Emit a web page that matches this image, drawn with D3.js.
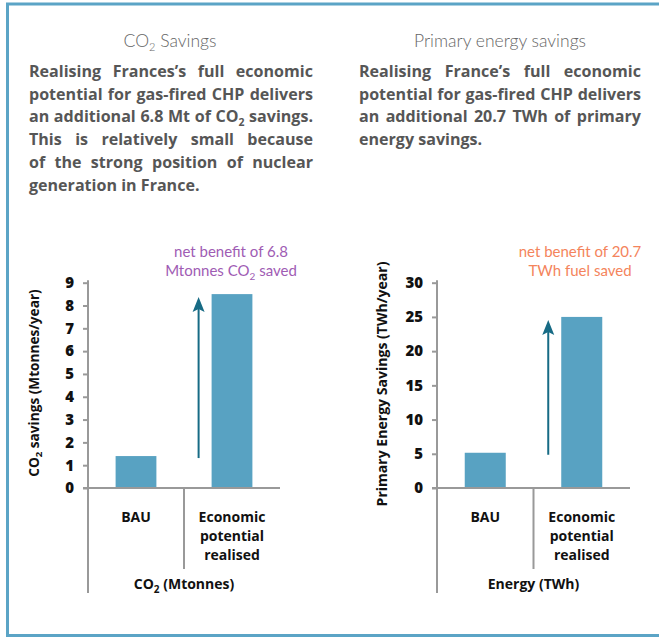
<!DOCTYPE html>
<html>
<head>
<meta charset="utf-8">
<script src="https://cdn.jsdelivr.net/npm/d3@7"></script>
<style>
  html, body { margin: 0; padding: 0; background: #fff; }
  svg { display: block; }
</style>
</head>
<body>
<svg id="chart" width="659" height="637"></svg>
<script>
// ---------------- data ----------------
const categories = ["BAU", "Economic potential realised"];
const categoryLines = [["BAU"], ["Economic", "potential", "realised"]];
const co2Values = [1.4, 8.5];
const energyValues = [5.15, 25];
const co2Ticks = [0, 1, 2, 3, 4, 5, 6, 7, 8, 9];
const energyTicks = [0, 5, 10, 15, 20, 25, 30];
const co2Heading = "CO₂ Savings";
const energyHeading = "Primary energy savings";
const co2Paragraph = [
  "Realising Frances’s full economic",
  "potential for gas-fired CHP delivers",
  "an additional 6.8 Mt of CO₂ savings.",
  "This is relatively small because",
  "of the strong position of nuclear",
  "generation in France."
];
const energyParagraph = [
  "Realising France’s full economic",
  "potential for gas-fired CHP delivers",
  "an additional 20.7 TWh of primary",
  "energy savings."
];
const co2Annotation = ["net benefit of 6.8", "Mtonnes CO₂ saved"];
const energyAnnotation = ["net benefit of 20.7", "TWh fuel saved"];
const co2YTitle = "CO₂ savings (Mtonnes/year)";
const energyYTitle = "Primary Energy Savings (TWh/year)";
const co2XTitle = "CO₂ (Mtonnes)";
const energyXTitle = "Energy (TWh)";

// ---------------- styles ----------------
const FONT = "Lato, 'Open Sans', sans-serif";
const BOLD = "'Open Sans', Lato, sans-serif";
const BORDER = "#5ba4c6";
const BAR = "#58a2c2";
const ARROW = "#176b85";
const AXIS = "#999999";

const svg = d3.select("#chart");

// frame
svg.append("path")
  .attr("d", "M659,4 H7.5 V635.5 H659")
  .attr("fill", "none").attr("stroke", BORDER).attr("stroke-width", 3);

// helper: text with subscript 2
function addRich(sel, str, subSize) {
  const parts = str.split("₂");
  parts.forEach((p, i) => {
    if (i > 0) {
      sel.append("tspan").attr("dy", subSize * 0.35).attr("font-size", subSize).text("2");
      sel.append("tspan").attr("dy", -subSize * 0.35).text(p);
    } else {
      sel.append("tspan").text(p);
    }
  });
  return sel;
}

function heading(text, cx, y) {
  const t = svg.append("text")
    .attr("x", cx).attr("y", y).attr("text-anchor", "middle")
    .attr("font-family", FONT).attr("font-weight", 300)
    .attr("font-size", 17.5).attr("fill", "#666");
  addRich(t, text, 11);
}

function justified(lines, x0, x1, y0, lh, fs) {
  const g = svg.append("g")
    .attr("font-family", BOLD).attr("font-weight", 700)
    .attr("font-size", fs).attr("fill", "#565656");
  lines.forEach((line, i) => {
    const y = y0 + i * lh;
    const words = line.split(" ");
    const nodes = words.map(w => addRich(g.append("text").attr("y", y), w, fs * 0.65));
    const widths = nodes.map(n => n.node().getComputedTextLength());
    const total = d3.sum(widths);
    const last = i === lines.length - 1;
    const gap = last ? fs * 0.26 : (x1 - x0 - total) / (words.length - 1);
    let x = x0;
    nodes.forEach((n, k) => { n.attr("x", x); x += widths[k] + gap; });
  });
}

// pick font size so a natural line fits a width
function fitSize(line, width, maxFs, family) {
  const t = svg.append("text").attr("font-family", family).attr("font-weight", 700)
    .attr("font-size", maxFs).text(line);
  const w = t.node().getComputedTextLength();
  t.remove();
  return Math.min(maxFs, maxFs * width / w);
}

heading(co2Heading, 170, 47);
heading(energyHeading, 500, 47);
const pfs = fitSize(co2Paragraph[1], 280, 17, BOLD);
justified(co2Paragraph, 29, 313, 77, 22.7, pfs);
justified(energyParagraph, 359, 641, 77, 22.7, pfs);

// ---------------- charts ----------------
function barChart(opt) {
  const g = svg.append("g");
  const y = d3.scaleLinear().domain([0, d3.max(opt.ticks)]).range([488, 282.7]);
  const x = d3.scaleBand().domain(categories).range([opt.x0, opt.x1])
    .paddingInner(0.575).paddingOuter(0.2875);
  const xc = d3.scaleBand().domain(categories).range([opt.x0, opt.x1]);

  // bars
  g.selectAll("rect.bar").data(opt.values).join("rect")
    .attr("x", (d, i) => x(categories[i]))
    .attr("width", x.bandwidth())
    .attr("y", d => y(d))
    .attr("height", d => y(0) - y(d))
    .attr("fill", BAR);

  // y axis
  const ya = g.append("g").attr("transform", `translate(${opt.x0},0)`)
    .call(d3.axisLeft(y).tickValues(opt.ticks).tickSize(5).tickPadding(9).tickSizeOuter(0));
  ya.select(".domain").remove();
  ya.selectAll(".tick line").attr("stroke", AXIS).attr("stroke-width", 2);
  ya.selectAll(".tick text").attr("font-family", BOLD).attr("font-weight", 800)
    .attr("font-size", 15).attr("fill", "#111");
  // y axis line extended down to group line
  g.append("line").attr("x1", opt.x0).attr("x2", opt.x0)
    .attr("y1", y(d3.max(opt.ticks)) - 2.5).attr("y2", 593)
    .attr("stroke", AXIS).attr("stroke-width", 2);
  // x axis baseline
  g.append("line").attr("x1", opt.x0 - 5).attr("x2", opt.x1)
    .attr("y1", y(0)).attr("y2", y(0)).attr("stroke", AXIS).attr("stroke-width", 2);
  // category separator
  const sep = xc(categories[1]);
  g.append("line").attr("x1", sep).attr("x2", sep).attr("y1", y(0)).attr("y2", 569)
    .attr("stroke", AXIS).attr("stroke-width", 2);

  // category labels
  categoryLines.forEach((lines, i) => {
    const cx = xc(categories[i]) + xc.bandwidth() / 2;
    lines.forEach((l, k) => {
      g.append("text").attr("x", cx).attr("y", 522 + k * 19)
        .attr("text-anchor", "middle").attr("font-family", BOLD).attr("font-weight", 700)
        .attr("font-size", 14).attr("fill", "#111").text(l);
    });
  });
  // group title
  const gt = g.append("text").attr("x", (opt.x0 + opt.x1) / 2).attr("y", 589)
    .attr("text-anchor", "middle").attr("font-family", BOLD).attr("font-weight", 700)
    .attr("font-size", 14).attr("fill", "#111");
  addRich(gt, opt.xTitle, 10);

  // y title
  const ys = fitSize(opt.yTitle.replace("₂", "2"), opt.yTitleLen, 15, BOLD);
  const yt = g.append("text")
    .attr("transform", `translate(${opt.yTitleX},${opt.yTitleC}) rotate(-90)`)
    .attr("text-anchor", "middle").attr("font-family", BOLD).attr("font-weight", 700)
    .attr("font-size", ys).attr("fill", "#111");
  addRich(yt, opt.yTitle, ys * 0.7);

  // arrow
  const ax = x(categories[1]) - 13;
  const yb = y(opt.values[0]) + 2;
  const yTip = y(opt.values[1]) + 3;
  g.append("line").attr("x1", ax).attr("x2", ax).attr("y1", yb).attr("y2", yTip + 10)
    .attr("stroke", ARROW).attr("stroke-width", 2);
  g.append("path")
    .attr("d", `M${ax},${yTip} L${ax + 6},${yTip + 15} L${ax},${yTip + 12} L${ax - 6},${yTip + 15} Z`)
    .attr("fill", ARROW);

  // annotation
  opt.annotation.forEach((l, k) => {
    const t = g.append("text").attr("x", opt.annX).attr("y", 257 + k * 19)
      .attr("text-anchor", "middle").attr("font-family", FONT).attr("font-weight", 400)
      .attr("font-size", 15).attr("fill", opt.annColor);
    addRich(t, l, 10);
  });
}

barChart({
  x0: 88, x1: 280, values: co2Values, ticks: co2Ticks,
  xTitle: co2XTitle, yTitle: co2YTitle, yTitleX: 39, yTitleC: 383, yTitleLen: 190,
  annotation: co2Annotation, annX: 231, annColor: "#a05cb4"
});
barChart({
  x0: 437, x1: 630, values: energyValues, ticks: energyTicks,
  xTitle: energyXTitle, yTitle: energyYTitle, yTitleX: 387, yTitleC: 384, yTitleLen: 245,
  annotation: energyAnnotation, annX: 580, annColor: "#f4845c"
});
</script>
</body>
</html>
